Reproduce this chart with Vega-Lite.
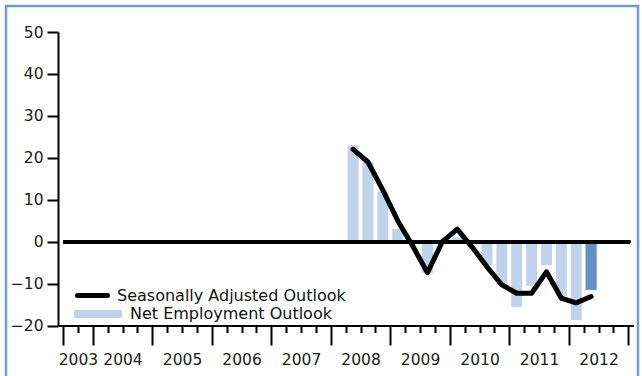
{
  "$schema": "https://vega.github.io/schema/vega-lite/v6.json",
  "width": 632,
  "height": 374,
  "autosize": "none",
  "padding": {"left": 6, "top": 6, "right": 4, "bottom": 0},
  "background": "white",
  "config": {
    "view": {"stroke": "#6f9bd4", "strokeWidth": 2.5},
    "font": "DejaVu Sans",
    "axis": {"grid": false, "labelFont": "DejaVu Sans", "labelColor": "#1a1a1a", "domainColor": "black", "tickColor": "black"}
  },
  "data": {
    "values": [
      {"period": 2008.375, "quarter": "2008 Q2", "net": 23, "sa": 22, "latest": false},
      {"period": 2008.625, "quarter": "2008 Q3", "net": 19, "sa": 19, "latest": false},
      {"period": 2008.875, "quarter": "2008 Q4", "net": 12, "sa": 12.3, "latest": false},
      {"period": 2009.125, "quarter": "2009 Q1", "net": 3, "sa": 5, "latest": false},
      {"period": 2009.375, "quarter": "2009 Q2", "net": 0, "sa": -1, "latest": false},
      {"period": 2009.625, "quarter": "2009 Q3", "net": -7.4, "sa": -7.4, "latest": false},
      {"period": 2009.875, "quarter": "2009 Q4", "net": 0, "sa": 0, "latest": false},
      {"period": 2010.125, "quarter": "2010 Q1", "net": 1, "sa": 3, "latest": false},
      {"period": 2010.375, "quarter": "2010 Q2", "net": 0, "sa": -1.3, "latest": false},
      {"period": 2010.625, "quarter": "2010 Q3", "net": -5.6, "sa": -6, "latest": false},
      {"period": 2010.875, "quarter": "2010 Q4", "net": -10.3, "sa": -10.3, "latest": false},
      {"period": 2011.125, "quarter": "2011 Q1", "net": -15.5, "sa": -12.3, "latest": false},
      {"period": 2011.375, "quarter": "2011 Q2", "net": -10.5, "sa": -12.3, "latest": false},
      {"period": 2011.625, "quarter": "2011 Q3", "net": -5.6, "sa": -7.2, "latest": false},
      {"period": 2011.875, "quarter": "2011 Q4", "net": -13, "sa": -13.5, "latest": false},
      {"period": 2012.125, "quarter": "2012 Q1", "net": -18.7, "sa": -14.6, "latest": false},
      {"period": 2012.375, "quarter": "2012 Q2", "net": -11.5, "sa": -13.1, "latest": true}
    ]
  },
  "layer": [
    {
      "mark": {"type": "bar", "size": 11},
      "encoding": {
        "x": {
          "field": "period", "type": "quantitative",
          "scale": {"domain": [2003.5, 2013], "range": [52, 627.3], "nice": false, "zero": false},
          "axis": {
            "orient": "bottom", "offset": -54.5, "title": null, "labels": false,
            "values": [2003.5, 2004, 2005, 2006, 2007, 2008, 2009, 2010, 2011, 2012, 2013],
            "tickSize": 19.5, "tickWidth": 2, "domainWidth": 2
          }
        },
        "y": {
          "field": "net", "type": "quantitative",
          "scale": {"domain": [-20, 50], "range": [319.5, 26], "nice": false},
          "axis": {
            "orient": "left", "offset": -52, "title": null,
            "values": [-20, -10, 0, 10, 20, 30, 40, 50],
            "tickSize": 11, "tickWidth": 2, "domainWidth": 2,
            "labelFontSize": 15.5, "labelPadding": 4
          }
        },
        "color": {
          "datum": "Net Employment Outlook", "type": "nominal",
          "scale": {"domain": ["Net Employment Outlook"], "range": ["#c0d3ea"]},
          "legend": {
            "orient": "none", "legendX": 68, "legendY": 284, "title": null, "padding": 0,
            "symbolType": "M-1,-0.17H1V0.17H-1Z", "symbolSize": 2304, "symbolStrokeWidth": 0,
            "labelFont": "DejaVu Sans", "labelFontSize": 16, "labelColor": "#111", "labelOffset": 8, "labelLimit": 400
          }
        }
      }
    },
    {
      "transform": [{"filter": "datum.latest"}],
      "mark": {"type": "bar", "size": 11, "color": "#6291c7"},
      "encoding": {
        "x": {
          "field": "period", "type": "quantitative",
          "axis": {
            "orient": "bottom", "offset": -54.5, "title": null, "labels": false, "domain": false,
            "values": [2003.75, 2004.25, 2004.5, 2004.75, 2005.25, 2005.5, 2005.75, 2006.25, 2006.5, 2006.75, 2007.25, 2007.5, 2007.75, 2008.25, 2008.5, 2008.75, 2009.25, 2009.5, 2009.75, 2010.25, 2010.5, 2010.75, 2011.25, 2011.5, 2011.75, 2012.25, 2012.5, 2012.75],
            "tickSize": 7, "tickWidth": 2
          }
        },
        "y": {
          "field": "net", "type": "quantitative",
          "axis": {
            "orient": "left", "offset": -52, "title": null,
            "values": [-20, -10, 0, 10, 20, 30, 40, 50],
            "tickSize": 11, "tickWidth": 2, "domainWidth": 2,
            "labelFontSize": 15.5, "labelPadding": 4
          }
        }
      }
    },
    {
      "mark": {"type": "rule", "color": "black", "strokeWidth": 3},
      "encoding": {
        "x": {"datum": 2003.5, "type": "quantitative", "axis": null},
        "x2": {"datum": 2013.03},
        "y": {
          "datum": 0, "type": "quantitative",
          "axis": {
            "orient": "left", "offset": -52, "title": null,
            "values": [-20, -10, 0, 10, 20, 30, 40, 50],
            "tickSize": 11, "tickWidth": 2, "domainWidth": 2,
            "labelFontSize": 15.5, "labelPadding": 4
          }
        }
      }
    },
    {
      "mark": {"type": "line", "color": "black", "strokeWidth": 5, "strokeJoin": "round", "strokeCap": "round"},
      "encoding": {
        "x": {
          "field": "period", "type": "quantitative",
          "axis": {
            "orient": "bottom", "offset": -54.5, "title": null, "domain": false, "ticks": false, "tickSize": 0,
            "values": [2003.75, 2004.5, 2005.5, 2006.5, 2007.5, 2008.5, 2009.5, 2010.5, 2011.5, 2012.5],
            "labelExpr": "'' + floor(datum.value)",
            "labelFontSize": 15.5, "labelPadding": 27
          }
        },
        "y": {
          "field": "sa", "type": "quantitative",
          "axis": {
            "orient": "left", "offset": -52, "title": null,
            "values": [-20, -10, 0, 10, 20, 30, 40, 50],
            "tickSize": 11, "tickWidth": 2, "domainWidth": 2,
            "labelFontSize": 15.5, "labelPadding": 4
          }
        },
        "color": {
          "datum": "Seasonally Adjusted Outlook", "type": "nominal",
          "scale": {"domain": ["Seasonally Adjusted Outlook"], "range": ["black"]},
          "legend": {
            "orient": "none", "legendX": 69, "legendY": 272, "title": null, "padding": 0,
            "symbolType": "stroke", "symbolSize": 900, "symbolStrokeWidth": 5,
            "labelFont": "DejaVu Sans", "labelFontSize": 16, "labelColor": "#111", "labelOffset": 7, "labelLimit": 400,
            "encode": {"symbols": {"update": {"strokeCap": {"value": "round"}}}}
          }
        }
      }
    }
  ],
  "resolve": {"scale": {"color": "independent"}, "axis": {"x": "independent"}}
}
